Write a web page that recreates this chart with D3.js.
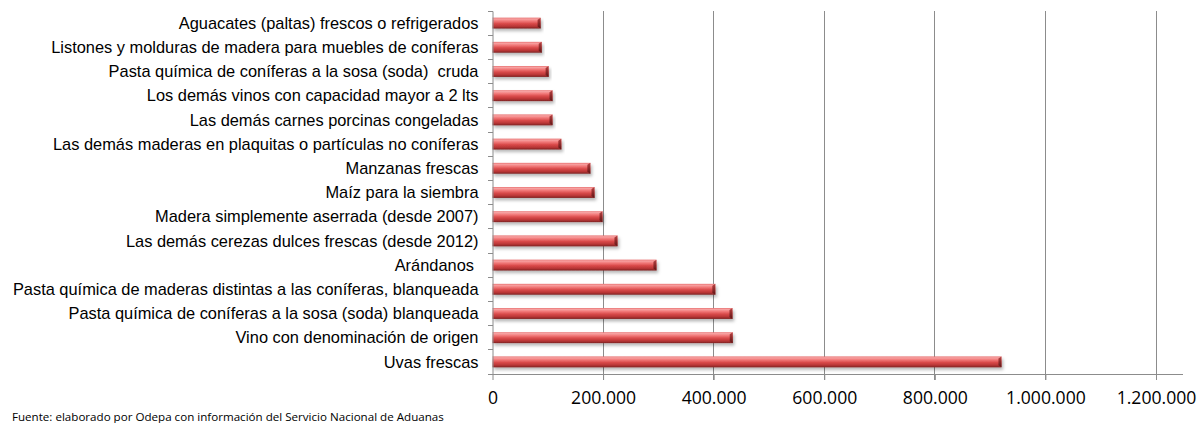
<!DOCTYPE html>
<html>
<head>
<meta charset="utf-8">
<script src="https://cdnjs.cloudflare.com/ajax/libs/d3/7.8.5/d3.min.js"></script>
<style>
  body { margin: 0; background: #fff; }
  .cat text { font-family: "Liberation Sans", Arial, sans-serif; font-size: 16.4px; fill: #000; white-space: pre; }
  .xax text { font-family: "Open Sans", sans-serif; font-size: 17.6px; fill: #000; }
  .src { font-family: "Open Sans", sans-serif; font-size: 11.6px; fill: #000; }
</style>
</head>
<body>
<div class="chart"></div>
<script>
// categories, top to bottom as drawn
var categories = [
    "Aguacates (paltas) frescos o refrigerados",
    "Listones y molduras de madera para muebles de coníferas",
    "Pasta química de coníferas a la sosa (soda)  cruda",
    "Los demás vinos con capacidad mayor a 2 lts",
    "Las demás carnes porcinas congeladas",
    "Las demás maderas en plaquitas o partículas no coníferas",
    "Manzanas frescas",
    "Maíz para la siembra",
    "Madera simplemente aserrada (desde 2007)",
    "Las demás cerezas dulces frescas (desde 2012)",
    "Arándanos ",
    "Pasta química de maderas distintas a las coníferas, blanqueada",
    "Pasta química de coníferas a la sosa (soda) blanqueada",
    "Vino con denominación de origen",
    "Uvas frescas"
];
var values = [87000, 89000, 101500, 108500, 108500, 124500, 177000, 184500, 199000, 226000, 296500, 403000, 434000, 434500, 920500];
var xTicks = [0, 200000, 400000, 600000, 800000, 1000000, 1200000];
var source = "Fuente: elaborado por Odepa con información del Servicio Nacional de Aduanas";

var W = 1199, H = 423;
var plotLeft = 492.5, plotTop = 11, plotBottom = 374, plotRight = 1183;

var svg = d3.select(".chart").append("svg")
    .attr("width", W)
    .attr("height", H);

var x = d3.scaleLinear().domain([0, 1200000]).range([plotLeft, 1156]);
var y = d3.scaleBand().domain(categories).range([plotTop, plotBottom]).paddingInner(0.55).paddingOuter(0.275);

var fmt = function(d) { return d3.format(",")(d).replace(/,/g, "."); };

// gradients and shadow
var defs = svg.append("defs");
var g1 = defs.append("linearGradient").attr("id", "barGrad")
    .attr("x1", 0).attr("y1", 0).attr("x2", 0).attr("y2", 1);
[[0, "#e76a6a"], [0.12, "#f7a3a3"], [0.3, "#f27a7a"], [0.55, "#d94a4a"], [0.8, "#b83535"], [1, "#7d2323"]]
    .forEach(function(s) { g1.append("stop").attr("offset", s[0]).attr("stop-color", s[1]); });
var g2 = defs.append("linearGradient").attr("id", "capGrad")
    .attr("x1", 0).attr("y1", 0).attr("x2", 0).attr("y2", 1);
[[0, "#b84444"], [0.5, "#8e2a2a"], [1, "#5e1717"]]
    .forEach(function(s) { g2.append("stop").attr("offset", s[0]).attr("stop-color", s[1]); });
var f = defs.append("filter").attr("id", "shadow")
    .attr("x", "-5%").attr("y", "-50%").attr("width", "110%").attr("height", "250%");
f.append("feDropShadow").attr("dx", 1.5).attr("dy", 2.5).attr("stdDeviation", 1.6)
    .attr("flood-color", "#000").attr("flood-opacity", 0.28);

// gridlines
svg.append("g").selectAll("line")
    .data(xTicks.slice(1))
    .enter().append("line")
    .attr("x1", function(d) { return x(d); })
    .attr("x2", function(d) { return x(d); })
    .attr("y1", plotTop)
    .attr("y2", plotBottom + 6)
    .attr("stroke", "#8c8c8c")
    .attr("shape-rendering", "crispEdges");

// bars
var bars = svg.append("g").selectAll("g")
    .data(values)
    .enter().append("g")
    .attr("filter", "url(#shadow)");

bars.append("rect")
    .attr("x", x(0))
    .attr("y", function(d, i) { return y(categories[i]); })
    .attr("width", function(d) { return x(d) - x(0); })
    .attr("height", y.bandwidth())
    .attr("fill", "url(#barGrad)");

// beveled right end
bars.append("path")
    .attr("d", function(d, i) {
        var x1 = x(d), y0 = y(categories[i]), h = y.bandwidth();
        return "M" + (x1 - 3) + "," + (y0 + 2) + "L" + x1 + "," + y0 + "L" + x1 + "," + (y0 + h) +
            "L" + (x1 - 3) + "," + (y0 + h - 2) + "Z";
    })
    .attr("fill", "url(#capGrad)");

// x axis
var xAxis = svg.append("g")
    .attr("class", "xax")
    .attr("transform", "translate(0," + plotBottom + ")")
    .call(d3.axisBottom(x).tickValues(xTicks).tickFormat(fmt).tickSize(6).tickPadding(12));
xAxis.select(".domain").remove();
xAxis.selectAll("line").attr("stroke", "#8c8c8c");
xAxis.append("line")
    .attr("x1", plotLeft).attr("x2", plotRight)
    .attr("stroke", "#8c8c8c")
    .attr("shape-rendering", "crispEdges");

// y axis
var yAxis = svg.append("g")
    .attr("class", "cat")
    .attr("transform", "translate(" + plotLeft + ",0)")
    .call(d3.axisLeft(y).tickSize(0).tickPadding(14));
yAxis.select(".domain").attr("stroke", "#8c8c8c");
yAxis.selectAll("text").attr("dy", "0.35em");

// category boundary ticks
var bounds = d3.range(categories.length + 1).map(function(i) { return plotTop + i * y.step(); });
svg.append("g").selectAll("line")
    .data(bounds)
    .enter().append("line")
    .attr("x1", plotLeft - 5).attr("x2", plotLeft)
    .attr("y1", function(d) { return d; })
    .attr("y2", function(d) { return d; })
    .attr("stroke", "#8c8c8c")
    .attr("shape-rendering", "crispEdges");

// source note
svg.append("text")
    .attr("class", "src")
    .attr("x", 12)
    .attr("y", 421)
    .text(source);
</script>
</body>
</html>
